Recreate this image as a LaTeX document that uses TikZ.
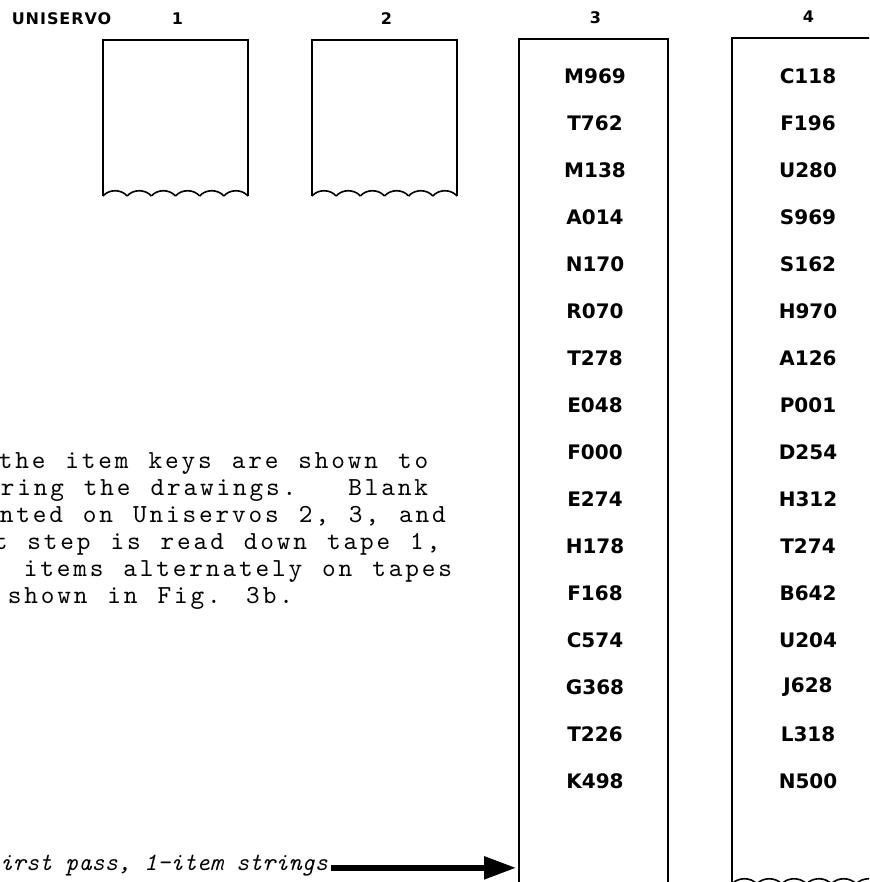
\documentclass[tikz,border=0pt]{standalone}
\usepackage{fontspec}
\newfontfamily\leroy{DejaVu Sans}
\newfontfamily\leroywide[LetterSpace=6]{DejaVu Sans}
\newfontfamily\typewriter[LetterSpace=11,WordSpace=1.21]{lmmono10-regular.otf}
\newfontfamily\typewriterit{lmmono10-italic.otf}
\usetikzlibrary{arrows.meta}

\begin{document}
\begin{tikzpicture}[x=1pt, y=-1pt, line width=1.6pt,
    tape/.style={outer sep=0, inner sep=0},
    headlabel/.style={font=\leroywide\bfseries\fontsize{16}{16}\selectfont, inner sep=0},
    keylabel/.style={font=\leroy\bfseries\fontsize{20}{20}\selectfont, inner sep=0},
    bodyline/.style={font=\typewriter\fontsize{26}{27}\selectfont, anchor=base west, inner sep=0},
    passtext/.style={font=\typewriterit\fontsize{25}{27}\selectfont, anchor=base west, inner sep=0},
    passarrow/.style={line width=5.5pt, -{Triangle[length=32pt,width=22pt]}, shorten >=3pt}]
        \useasboundingbox (0,0) rectangle (869,882);
        \clip (0,0) rectangle (869,882);
%%% Start Tapes (open at the bottom)
        \foreach \n/\l/\r/\t/\b in {1/103/248/40/196, 2/312/457/40/196, 3/519/668/39/889, 4/732/881/38/884}{
          \node[tape, minimum width=\r-\l, minimum height=\b-\t] (tape\n) at ({(\l+\r)/2},{(\t+\b)/2}) {};
          \draw (tape\n.south west) |- (tape\n.north east) -- (tape\n.south east);
          \foreach \k in {0,...,5}{
            \pgfmathsetmacro\xa{\l+\k*(\r-\l)/6}
            \pgfmathsetmacro\xb{\l+(\k+1)*(\r-\l)/6}
            \draw (\xa,\b) .. controls (\xa+6,\b-7) and (\xb-6,\b-7) .. (\xb,\b);
          }
        }
%%% End Tapes
%%% Start Uniservo header
        \node[headlabel, anchor=west] (uniservo) at (11,19) {UNISERVO};
        \foreach \n in {1,...,4}
          \node[headlabel] (num\n) at ([xshift=2pt,yshift=21pt]tape\n.north) {\n};
%%% End Uniservo header
%%% Start item keys on Uniservo 3 and 4
        \foreach \key [count=\i] in {M969,T762,M138,A014,N170,R070,T278,E048,F000,E274,H178,F168,C574,G368,T226,K498}
          \node[keylabel] (keyc\i) at (595,{29+47*\i}) {\key};
        \foreach \key [count=\i] in {C118,F196,U280,S969,S162,H970,A126,P001,D254,H312,T274,B642,U204,J628,L318,N500}
          \node[keylabel] (keyd\i) at (808,{29+47*\i}) {\key};
%%% End item keys
%%% Start text beside the tapes
        \node[bodyline] (line1) at (-2,468) {the item keys are shown to};
        \node[bodyline] (line2) at (0,495) {ring the drawings.\ \ \hspace{12pt}Blank};
        \node[bodyline] (line3) at (-1,522) {nted on Uniservos 2, 3, and};
        \node[bodyline] (line4) at (-7,549) {t step is read down tape 1,};
        \node[bodyline] (line5) at (23,576) {items alternately on tapes};
        \node[bodyline] (line6) at (7,603) {shown in Fig. 3b.};
%%% End text
%%% Start first pass arrow
        \node[passtext] (passlabel) at (-1,870) {irst pass, 1-item strings};
        \coordinate (passin) at (tape3.west |- passlabel.mid east);
        \draw[passarrow] ([xshift=2pt]passlabel.mid east) -- (passin);
%%% End first pass arrow
\end{tikzpicture}
\end{document}
